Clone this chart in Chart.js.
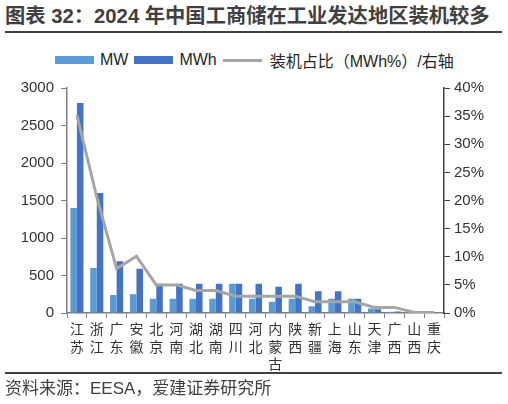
<!doctype html>
<html lang="zh">
<head>
<meta charset="utf-8" />
<script src="https://cdn.jsdelivr.net/npm/chart.js@4.4.1/dist/chart.umd.min.js"></script>
<style>
  html, body {
    margin: 0;
    padding: 0;
    width: 508px;
    height: 404px;
    background: #ffffff;
    overflow: hidden;
    font-family: 'Liberation Sans', 'Noto Sans CJK SC', sans-serif;
  }
  .title {
    position: absolute;
    left: 5px;
    top: 3px;
    font-size: 20.3px;
    font-weight: bold;
    color: #404040;
    white-space: nowrap;
    line-height: 26px;
  }
  .rule-top {
    position: absolute;
    left: 5px;
    top: 31px;
    width: 497px;
    height: 2px;
    background: #404040;
  }
  .rule-bottom {
    position: absolute;
    left: 5px;
    top: 372px;
    width: 497px;
    height: 1.5px;
    background: #404040;
  }
  .source {
    position: absolute;
    left: 5px;
    top: 377px;
    font-size: 17px;
    color: #404040;
    white-space: nowrap;
    line-height: 24px;
  }
  .legend {
    position: absolute;
    left: 55px;
    top: 50px;
    height: 20px;
    display: flex;
    align-items: center;
    font-size: 16px;
    color: #262626;
    white-space: nowrap;
  }
  .legend .box { width: 39px; height: 8px; margin-right: 6px; }
  .legend .ln { width: 39px; height: 3px; margin-right: 8px; background: #A5A5A5; }
  .legend .txt { margin-right: 6px; }
  .wrap { position: absolute; left: 0; top: 0; width: 508px; height: 404px; }
</style>
</head>
<body>
  <div class="title">图表 32：2024 年中国工商储在工业发达地区装机较多</div>
  <div class="rule-top"></div>
  <div class="legend">
    <span class="box" style="background:#5B9BD5"></span><span class="txt">MW</span>
    <span class="box" style="background:#4472C4"></span><span class="txt">MWh</span>
    <span class="ln"></span><span class="txt">装机占比（MWh%）/右轴</span>
  </div>
  <div class="wrap"><canvas id="chart"></canvas></div>
  <div class="rule-bottom"></div>
  <div class="source">资料来源：EESA，爱建证券研究所</div>
<script>
const regions = ['江苏', '浙江', '广东', '安徽', '北京', '河南', '湖北', '湖南', '四川', '河北',
  '内蒙古', '陕西', '新疆', '上海', '山东', '天津', '广西', '山西', '重庆'];
const mwValues = [1400, 600, 240, 250, 190, 190, 190, 190, 390, 190,
  150, 190, 90, 190, 190, 60, 15, 0, 0];
const mwhValues = [2800, 1600, 690, 590, 390, 390, 390, 390, 390, 390,
  350, 390, 290, 290, 190, 50, 20, 3, 0];
const sharePct = [35.2, 20.6, 7.9, 10.1, 5, 5, 4, 4, 3, 3,
  3, 3, 2, 2, 2, 1, 1, 0.1, 0.1];
const leftTicks = [0, 500, 1000, 1500, 2000, 2500, 3000];
const rightTicks = [0, 5, 10, 15, 20, 25, 30, 35, 40];

// vertical labels: one character per line
const verticalLabels = regions.map(name => Array.from(name));

const axisColor = '#7f7f7f';
const textColor = '#333333';

const config = {
  type: 'bar',
  data: {
    labels: verticalLabels,
    datasets: [
      {
        type: 'line',
        label: '装机占比（MWh%）/右轴',
        data: sharePct,
        yAxisID: 'y1',
        borderColor: '#A5A5A5',
        borderWidth: 3,
        pointRadius: 0,
        tension: 0,
        fill: false,
        order: 0,
      },
      {
        label: 'MW',
        data: mwValues,
        yAxisID: 'y',
        backgroundColor: '#5B9BD5',
        categoryPercentage: 0.66,
        barPercentage: 1,
        order: 1,
      },
      {
        label: 'MWh',
        data: mwhValues,
        yAxisID: 'y',
        backgroundColor: '#4472C4',
        categoryPercentage: 0.66,
        barPercentage: 1,
        order: 1,
      },
    ],
  },
  options: {
    responsive: true,
    maintainAspectRatio: false,
    animation: false,
    layout: { padding: { left: 0, right: 0, top: 88, bottom: 0 } },
    plugins: {
      legend: { display: false },
      tooltip: { enabled: false },
    },
    scales: {
      x: {
        offset: true,
        grid: { offset: true, drawOnChartArea: false, drawTicks: true, tickLength: 5, color: axisColor },
        border: { display: true, color: axisColor, width: 1.5 },
        ticks: {
          color: textColor,
          padding: 2,
          maxRotation: 0,
          autoSkip: false,
          font: { family: "'Noto Sans CJK SC', sans-serif", size: 14, lineHeight: 1.25 },
        },
        afterFit(scale) { scale.height = 404 - 313; },
      },
      y: {
        position: 'left',
        min: 0,
        max: 3000,
        afterBuildTicks(scale) { scale.ticks = leftTicks.map(v => ({ value: v })); },
        grid: { drawOnChartArea: false, drawTicks: true, tickLength: 6, color: axisColor },
        border: { display: true, color: axisColor, width: 1.5 },
        ticks: {
          color: textColor,
          padding: 7,
          callback: v => String(v),
          font: { family: "'Liberation Sans', sans-serif", size: 15 },
        },
        afterFit(scale) { scale.width = 67; },
      },
      y1: {
        position: 'right',
        min: 0,
        max: 40,
        afterBuildTicks(scale) { scale.ticks = rightTicks.map(v => ({ value: v })); },
        grid: { drawOnChartArea: false, drawTicks: true, tickLength: 6, color: '#404040' },
        border: { display: true, color: '#404040', width: 1.5 },
        ticks: {
          color: textColor,
          padding: 4,
          callback: v => v + '%',
          font: { family: "'Liberation Sans', sans-serif", size: 15 },
        },
        afterFit(scale) { scale.width = 508 - 444; },
      },
    },
  },
};

new Chart(document.getElementById('chart'), config);
</script>
</body>
</html>
